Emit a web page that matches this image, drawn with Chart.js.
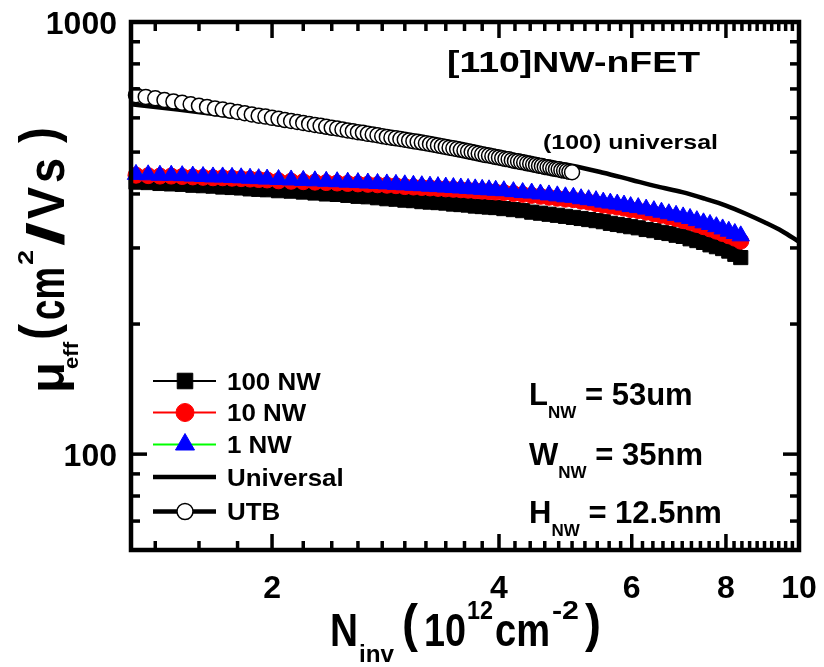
<!DOCTYPE html>
<html lang="en">
<head>
  <meta charset="UTF-8" />
  <title>[110]NW-nFET mobility</title>
  <script src="https://cdn.jsdelivr.net/npm/chart.js"></script>
  <style>
    html, body { margin: 0; padding: 0; background: #fff; }
    canvas { display: block; }
  </style>
</head>
<body>
  <canvas id="mobChart" width="824" height="667"></canvas>

  <script>
    // N_inv (10^12 cm^-2) sample points shared by the three NW curves
    const nwNinv = [
      1.32, 1.37, 1.42, 1.47, 1.52, 1.57, 1.62, 1.67, 1.72, 1.77, 1.82, 1.87, 1.92, 1.97,
      2.04, 2.12, 2.20, 2.28, 2.36, 2.44, 2.52, 2.60, 2.68, 2.76, 2.84, 2.92,
      3.00, 3.08, 3.16, 3.24, 3.32, 3.40, 3.48, 3.56, 3.64, 3.72, 3.80, 3.88, 3.96,
      4.06, 4.18, 4.30, 4.42, 4.54, 4.66, 4.78, 4.90,
      5.02, 5.14, 5.26, 5.38, 5.50, 5.62, 5.74, 5.86, 5.98,
      6.12, 6.27, 6.42, 6.57, 6.72, 6.87,
      7.02, 7.17, 7.32, 7.47, 7.62, 7.77, 7.92,
      8.07, 8.22, 8.37
    ];
    const mu100NW = [
      426, 425, 423, 422, 421, 419, 418, 417, 415, 414, 413, 411, 410, 409,
      407, 406, 404, 402, 400, 399, 397, 395, 394, 392, 390, 389,
      387, 386, 384, 383, 382, 381, 379, 378, 377, 375, 374, 373, 372,
      370, 368, 366, 363, 361, 359, 357, 355,
      353, 351, 349, 347, 345, 342, 340, 338, 336,
      334, 331, 329, 326, 324, 321,
      319, 315, 312, 309, 305, 302, 299,
      295, 290, 285
    ];
    const mu10NW = [
      442, 441, 440, 440, 439, 438, 437, 436, 436, 435, 434, 433, 432, 431,
      429, 428, 427, 426, 425, 424, 423, 422, 421, 420, 419, 418,
      416, 415, 414, 413, 412, 411, 410, 409, 408, 407, 406, 405, 404,
      403, 401, 399, 397, 395, 393, 391, 389,
      388, 385, 383, 380, 377, 375, 373, 371, 368,
      366, 363, 360, 357, 354, 351,
      347, 344, 340, 336, 332, 328, 324,
      320, 316, 311
    ];
    const mu1NW = [
      444, 443, 442, 442, 441, 440, 439, 438, 438, 437, 436, 435, 434, 433,
      432, 431, 430, 429, 428, 427, 426, 425, 424, 423, 422, 421,
      420, 419, 418, 417, 416, 415, 414, 413, 412, 411, 410, 409, 408,
      407, 405, 403, 402, 400, 398, 396, 394,
      393, 390, 388, 386, 383, 381, 379, 377, 374,
      372, 369, 366, 363, 360, 357,
      354, 351, 347, 343, 340, 336, 332,
      328, 324, 320
    ];

    // UTB reference (open circles)
    const utbNinv = [
      1.32, 1.36, 1.40, 1.44, 1.48, 1.52, 1.56, 1.60, 1.64, 1.68, 1.72, 1.76, 1.80, 1.84, 1.88, 1.92, 1.96,
      2.00, 2.04, 2.08, 2.12, 2.16, 2.20, 2.24, 2.28, 2.32, 2.36, 2.40, 2.44, 2.48, 2.52, 2.56, 2.60, 2.64,
      2.68, 2.72, 2.76, 2.80, 2.84, 2.88, 2.92, 2.96, 3.00, 3.04, 3.08, 3.12, 3.16, 3.20, 3.24, 3.28, 3.32,
      3.36, 3.40, 3.44, 3.48, 3.52, 3.56, 3.60, 3.64, 3.68, 3.72, 3.76, 3.80, 3.84, 3.88, 3.92, 3.96,
      4.00, 4.04, 4.08, 4.12, 4.16, 4.20, 4.24, 4.28, 4.32, 4.36, 4.40, 4.44, 4.48, 4.52, 4.56, 4.60,
      4.64, 4.68, 4.72, 4.76, 4.80, 4.84, 4.88, 4.92, 4.96, 5.00
    ];
    const muUTB = [
      677, 671, 666, 660, 655, 650, 645, 640, 636, 631, 627, 623, 619, 615, 611, 607, 604,
      600, 597, 593, 590, 587, 584, 581, 578, 575, 572, 569, 567, 564, 561, 559, 556, 554,
      551, 549, 547, 544, 542, 540, 538, 536, 534, 532, 530, 528, 526, 524, 522, 520, 518,
      516, 514, 512, 510, 508, 506, 504, 502, 500, 498, 496, 494, 492, 491, 489, 487,
      486, 484, 482, 481, 479, 477, 476, 474, 473, 471, 470, 468, 467, 465, 464, 462,
      461, 460, 458, 457, 456, 454, 453, 452, 450, 449
    ];

    // (100) universal curve
    const univNinv = [1.3, 1.5, 2, 2.5, 3, 3.5, 4, 4.5, 5, 5.5, 6, 6.5, 7, 7.5, 8, 8.5, 9, 9.5, 10];
    const muUniv = [645, 627, 589, 559, 532, 513, 495, 478, 465, 448, 431, 416, 404, 390, 376, 360, 344, 328, 310];

    const xTickLabels = [2, 4, 6, 8, 10];
    const yTickLabels = [100, 1000];

    const FONT = '"Liberation Sans", Arial, sans-serif';

    function toPoints(xs, ys) {
      return xs.map((x, i) => ({ x: x, y: ys[i] }));
    }

    // minor tick positions (0.2 steps on x, 1-9 per decade on y)
    const xMinor = [];
    for (let v = 1.4; v < 9.9; v += 0.2) {
      const r = Math.round(v * 10) / 10;
      if (!xTickLabels.includes(r)) xMinor.push(r);
    }
    const yMinor = [70, 80, 90, 200, 300, 400, 500, 600, 700, 800, 900];

    // draw bold text, optionally squeezed/stretched to a given width
    function fitText(ctx, str, x, y, size, width) {
      ctx.font = `bold ${size}px ${FONT}`;
      const w = ctx.measureText(str).width;
      ctx.save();
      ctx.translate(x, y);
      ctx.scale(width ? width / w : 1, 1);
      ctx.fillText(str, 0, 0);
      ctx.restore();
    }

    // pieces of a label placed one by one (sub/superscripts)
    function drawParts(ctx, parts) {
      parts.forEach(p => fitText(ctx, p.t, p.x, p.dy || 0, p.size, p.w));
    }

    function marker(ctx, style, x, y, r) {
      ctx.beginPath();
      if (style === 'rect') {
        const s = r * Math.SQRT1_2;
        ctx.rect(x - s, y - s, 2 * s, 2 * s);
      } else if (style === 'triangle') {
        ctx.moveTo(x, y - r);
        ctx.lineTo(x + r * Math.sin(Math.PI * 2 / 3), y + r / 2);
        ctx.lineTo(x - r * Math.sin(Math.PI * 2 / 3), y + r / 2);
        ctx.closePath();
      } else {
        ctx.arc(x, y, r, 0, Math.PI * 2);
      }
      ctx.fill();
      ctx.stroke();
    }

    const framePlugin = {
      id: 'frame',
      afterDatasetsDraw(chart) {
        const ctx = chart.ctx;
        const a = chart.chartArea;
        const xs = chart.scales.x;
        const ys = chart.scales.y;
        ctx.save();
        ctx.fillStyle = '#000';
        ctx.strokeStyle = '#000';

        // box
        ctx.lineWidth = 4.5;
        ctx.strokeRect(a.left, a.top, a.right - a.left, a.bottom - a.top);

        // inward ticks on all four sides
        const line = (x1, y1, x2, y2) => {
          ctx.beginPath(); ctx.moveTo(x1, y1); ctx.lineTo(x2, y2); ctx.stroke();
        };
        ctx.lineWidth = 3.5;
        xMinor.forEach(v => {
          const p = xs.getPixelForValue(v);
          line(p, a.bottom, p, a.bottom - 9);
          line(p, a.top, p, a.top + 9);
        });
        xTickLabels.forEach(v => {
          const p = xs.getPixelForValue(v);
          line(p, a.bottom, p, a.bottom - 16);
          line(p, a.top, p, a.top + 16);
        });
        yMinor.forEach(v => {
          const p = ys.getPixelForValue(v);
          line(a.left, p, a.left + 9, p);
          line(a.right, p, a.right - 9, p);
        });
        yTickLabels.forEach(v => {
          const p = ys.getPixelForValue(v);
          line(a.left, p, a.left + 16, p);
          line(a.right, p, a.right - 16, p);
        });

        // tick labels
        ctx.font = `bold 32px ${FONT}`;
        ctx.textAlign = 'center';
        xTickLabels.forEach(v => {
          ctx.fillText(String(v), xs.getPixelForValue(v), 598);
        });
        ctx.textAlign = 'right';
        yTickLabels.forEach(v => {
          ctx.fillText(String(v), 117, ys.getPixelForValue(v) + 11.5);
        });
        ctx.textAlign = 'left';

        // x axis title
        ctx.save();
        ctx.translate(0, 646);
        drawParts(ctx, [
          { t: 'N', x: 330, size: 46, w: 28 },
          { t: 'inv', x: 359, size: 24, dy: 16, w: 35 },
          { t: '(', x: 402, size: 52, dy: -5, w: 16 },
          { t: '10', x: 424, size: 46, w: 42 },
          { t: '12', x: 467, size: 25, dy: -27, w: 26 },
          { t: 'cm', x: 495, size: 46, w: 55 },
          { t: '-2', x: 552, size: 25, dy: -27, w: 27 },
          { t: ')', x: 585, size: 52, dy: -5, w: 16 }
        ]);
        ctx.restore();

        // y axis title (rotated), positions along the text run
        ctx.save();
        ctx.translate(64, 393);
        ctx.rotate(-Math.PI / 2);
        drawParts(ctx, [
          { t: 'μ', x: 0, size: 48, w: 31 },
          { t: 'eff', x: 24, size: 20, dy: 14, w: 27 },
          { t: '(', x: 53, size: 52, dy: -8, w: 16 },
          { t: 'cm', x: 73, size: 52, w: 53 },
          { t: '2', x: 128, size: 22, dy: -31, w: 15 },
          { t: '/', x: 147, size: 52, w: 24 },
          { t: 'V', x: 174, size: 52, w: 32 },
          { t: 's', x: 210, size: 52, w: 25 },
          { t: ')', x: 250, size: 52, dy: -8, w: 16 }
        ]);
        ctx.restore();

        // annotations
        fitText(ctx, '[110]NW-nFET', 447, 72, 29, 253);
        fitText(ctx, '(100) universal', 543, 149, 21, 175);

        const params = [['L', '53um', 405], ['W', '35nm', 465], ['H', '12.5nm', 523]];
        params.forEach(p => {
          ctx.save();
          ctx.translate(0, p[2]);
          ctx.font = `bold 31px ${FONT}`;
          const lw = ctx.measureText(p[0]).width;
          drawParts(ctx, [
            { t: p[0], x: 529, size: 31 },
            { t: 'NW', x: 529 + lw, size: 17, dy: 13 },
            { t: '= ' + p[1], x: 529 + lw + 37, size: 31 }
          ]);
          ctx.restore();
        });

        // legend, styled from the datasets (reverse dataset order)
        const rowY = [381, 412.5, 444.5, 477, 511.5];
        const legendDs = chart.data.datasets.slice().reverse();
        legendDs.forEach((ds, i) => {
          const y = rowY[i];
          ctx.strokeStyle = ds.borderColor;
          ctx.lineWidth = ds.legendWidth || ds.borderWidth;
          line(153, y, 216, y);
          if (ds.pointRadius > 0) {
            ctx.fillStyle = ds.pointBackgroundColor;
            ctx.strokeStyle = ds.pointBorderColor;
            ctx.lineWidth = ds.pointBorderWidth;
            marker(ctx, ds.pointStyle, 185, y, ds.legendRadius);
          }
          ctx.fillStyle = '#000';
          ctx.font = `bold 24px ${FONT}`;
          fitText(ctx, ds.label, 227, y + 8.6, 24, ctx.measureText(ds.label).width * 1.08);
        });
        ctx.restore();
      }
    };

    new Chart(document.getElementById('mobChart'), {
      type: 'line',
      data: {
        datasets: [
          {
            label: 'UTB',
            data: toPoints(utbNinv, muUTB),
            order: 0,
            borderColor: '#000',
            borderWidth: 2,
            legendWidth: 4.5,
            pointStyle: 'circle',
            pointRadius: 7.5,
            legendRadius: 8,
            pointBorderWidth: 1.5,
            pointBackgroundColor: '#fff',
            pointBorderColor: '#000',
            clip: 12
          },
          {
            label: 'Universal',
            data: toPoints(univNinv, muUniv),
            order: 1,
            borderColor: '#000',
            borderWidth: 4.5,
            pointRadius: 0,
            cubicInterpolationMode: 'monotone'
          },
          {
            label: '1 NW',
            data: toPoints(nwNinv, mu1NW),
            order: 2,
            borderColor: '#00ff00',
            borderWidth: 2,
            pointStyle: 'triangle',
            pointRadius: 10,
            legendRadius: 11,
            pointBorderWidth: 1,
            pointBackgroundColor: '#0000ff',
            pointBorderColor: '#0000ff',
            clip: 12
          },
          {
            label: '10 NW',
            data: toPoints(nwNinv, mu10NW),
            order: 3,
            borderColor: '#ff0000',
            borderWidth: 2,
            pointStyle: 'circle',
            pointRadius: 8,
            legendRadius: 9,
            pointBorderWidth: 1,
            pointBackgroundColor: '#ff0000',
            pointBorderColor: '#ff0000',
            clip: 12
          },
          {
            label: '100 NW',
            data: toPoints(nwNinv, mu100NW),
            order: 4,
            borderColor: '#000',
            borderWidth: 2,
            pointStyle: 'rect',
            pointRadius: 10,
            legendRadius: 11,
            pointBorderWidth: 1,
            pointBackgroundColor: '#000',
            pointBorderColor: '#000',
            clip: 12
          }
        ]
      },
      options: {
        responsive: false,
        animation: false,
        devicePixelRatio: 1,
        layout: { padding: { left: 131, right: 25, top: 22, bottom: 117 } },
        scales: {
          x: { type: 'logarithmic', min: 1.3, max: 10, display: false },
          y: { type: 'logarithmic', min: 60, max: 1000, display: false }
        },
        plugins: {
          legend: { display: false },
          tooltip: { enabled: false }
        },
        events: []
      },
      plugins: [framePlugin]
    });
  </script>
</body>
</html>
